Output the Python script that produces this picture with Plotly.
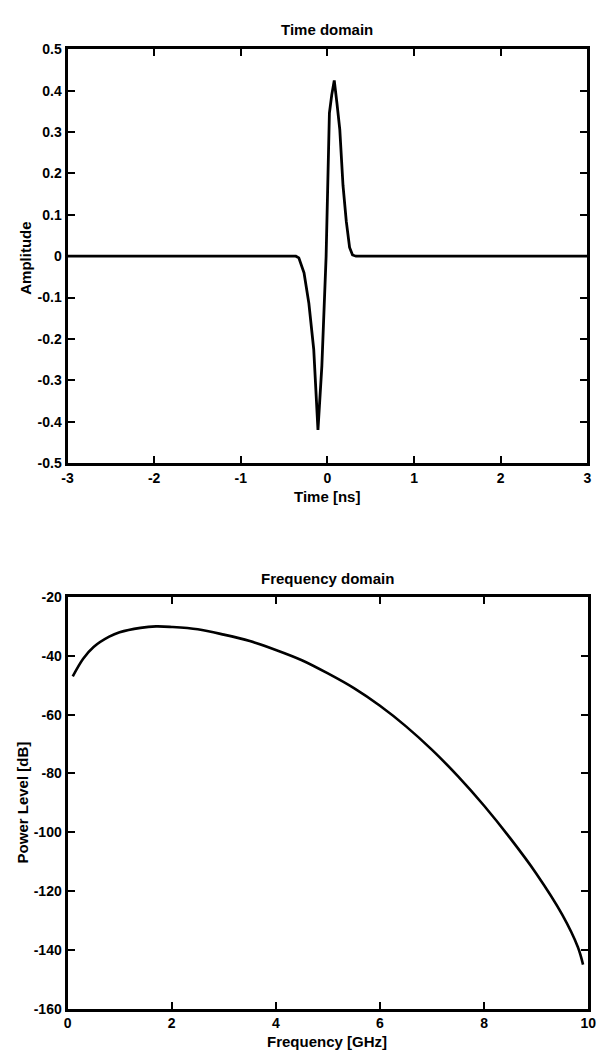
import plotly.graph_objects as go

# Time-domain pulse
time_ns = [-3.0, -2.0, -1.0, -0.5, -0.364, -0.33, -0.31, -0.27, -0.214, -0.158, -0.109,
           -0.064, -0.015, 0.011, 0.023, 0.05, 0.079, 0.11, 0.143, 0.18, 0.218, 0.256,
           0.29, 0.33, 0.5, 1.0, 2.0, 3.0]
amplitude = [0.0, 0.0, 0.0, 0.0, 0.0, -0.004, -0.015, -0.04, -0.114, -0.225, -0.42,
             -0.265, 0.0, 0.212, 0.346, 0.39, 0.425, 0.37, 0.306, 0.171, 0.084, 0.021,
             0.003, 0.0, 0.0, 0.0, 0.0, 0.0]

# Frequency-domain spectrum
freq_ghz = [0.1, 0.3, 0.5, 0.8, 1.0, 1.4, 1.7, 2.0, 2.5, 3.0, 3.5, 4.0, 4.5, 5.0,
            5.5, 6.0, 6.5, 7.0, 7.5, 8.0, 8.5, 9.0, 9.5, 9.8, 9.9]
power_db = [-47, -41, -37, -33.5, -32, -30.5, -30, -30.2, -31, -32.8, -35, -38,
            -41.5, -46, -51, -57, -64, -72, -81, -91, -102, -114, -128, -139, -145]

# Tick labels
t_ticks = [-3, -2, -1, 0, 1, 2, 3]
t_labels = ["-3", "-2", "-1", "0", "1", "2", "3"]
a_ticks = [-0.5, -0.4, -0.3, -0.2, -0.1, 0, 0.1, 0.2, 0.3, 0.4, 0.5]
a_labels = ["-0.5", "-0.4", "-0.3", "-0.2", "-0.1", "0", "0.1", "0.2", "0.3", "0.4", "0.5"]
f_ticks = [0, 2, 4, 6, 8, 10]
f_labels = ["0", "2", "4", "6", "8", "10"]
p_ticks = [-160, -140, -120, -100, -80, -60, -40, -20]
p_labels = ["-160", "-140", "-120", "-100", "-80", "-60", "-40", "-20"]

FONT = "Liberation Sans"
W, H = 607, 1061

fig = go.Figure()
fig.add_trace(go.Scatter(x=time_ns, y=amplitude, mode="lines",
                         line=dict(color="black", width=2.8), xaxis="x", yaxis="y",
                         showlegend=False))
fig.add_trace(go.Scatter(x=freq_ghz, y=power_db, mode="lines",
                         line=dict(color="black", width=2.6), xaxis="x2", yaxis="y2",
                         showlegend=False, line_shape="spline"))

def px_x(x):
    return x / W

def px_y(y):
    return 1 - y / H

axis_common = dict(showline=True, linecolor="black", linewidth=3, mirror="ticks",
                   ticks="inside", ticklen=7, tickwidth=2, tickcolor="black",
                   showgrid=False, zeroline=False, ticklabelstandoff=0,
                   tickfont=dict(family=FONT, size=14, color="black", weight="bold"))

fig.update_layout(
    width=W, height=H, margin=dict(l=0, r=0, t=0, b=0),
    paper_bgcolor="white", plot_bgcolor="white",
    xaxis=dict(domain=[px_x(63), px_x(595)], range=[-3, 3],
               tickvals=t_ticks, ticktext=t_labels, anchor="y", **axis_common),
    yaxis=dict(domain=[px_y(462), px_y(42)], range=[-0.5, 0.5],
               tickvals=a_ticks, ticktext=a_labels, anchor="x", **axis_common),
    xaxis2=dict(domain=[px_x(63), px_x(596)], range=[0, 10],
                tickvals=f_ticks, ticktext=f_labels, anchor="y2", **axis_common),
    yaxis2=dict(domain=[px_y(1016), px_y(598)], range=[-160, -20],
                tickvals=p_ticks, ticktext=p_labels, anchor="x2", **axis_common),
)

def label(text, x, y, angle=0, size=15):
    fig.add_annotation(text=text, x=px_x(x), y=px_y(y), xref="paper", yref="paper",
                       showarrow=False, textangle=angle,
                       font=dict(family=FONT, size=size, color="black", weight="bold"),
                       xanchor="center", yanchor="middle")

label("Time domain", 329, 22)
label("Time [ns]", 329, 496)
label("Amplitude", 20, 254, angle=-90)
label("Frequency domain", 329, 579)
label("Frequency [GHz]", 329, 1049)
label("Power Level [dB]", 17, 807, angle=-90)

fig.write_html("out.html")
